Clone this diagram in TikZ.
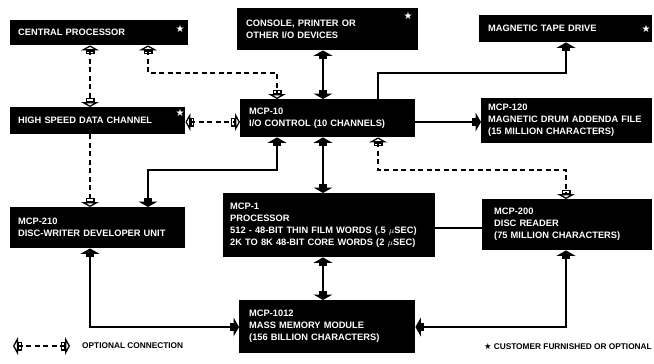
\documentclass[tikz,border=0pt]{standalone}
\usepackage{fontspec}
\setmainfont{Liberation Sans}
\newfontfamily\symf{DejaVu Sans}
\usetikzlibrary{arrows.meta}
\begin{document}
\begin{tikzpicture}[x=1pt,y=-1pt,
  box/.style={fill=black, text=white, draw=none, anchor=north west,
    inner xsep=8pt, inner ysep=0pt, align=left,
    font=\bfseries\fontsize{9.3}{12}\selectfont},
  star/.style={text=white, inner sep=0pt, font=\symf\fontsize{10}{10}\selectfont},
  sol/.style={line width=1.6pt},
  dsh/.style={line width=1.5pt, dash pattern=on 5pt off 3.5pt},
  obo/.style={arrows={{Triangle[open,length=5pt,width=18pt,line width=1.3pt]Rectangle[open,length=4pt,width=9pt,line width=1.3pt]}-{Rectangle[open,length=4pt,width=9pt,line width=1.3pt]Triangle[open,length=5pt,width=18pt,line width=1.3pt]}}},
  oen/.style={arrows={-{Rectangle[open,length=4pt,width=9pt,line width=1.3pt]Triangle[open,length=5pt,width=18pt,line width=1.3pt]}}},
  fbo/.style={arrows={{Triangle[length=5.5pt,width=19pt]Rectangle[length=3.5pt,width=8pt]}-{Rectangle[length=3.5pt,width=8pt]Triangle[length=5.5pt,width=19pt]}}},
  fen/.style={arrows={-{Rectangle[length=3.5pt,width=8pt]Triangle[length=5.5pt,width=19pt]}}},
  legend/.style={inner sep=0pt, font=\bfseries\fontsize{8.3}{9}\selectfont}]
\useasboundingbox (0,0) rectangle (654,364);
\fill[white] (0,0) rectangle (654,364);

% boxes
\node[box, text width=162pt, inner xsep=8pt, minimum height=25pt] (cp) at (10,20) {CENTRAL PROCESSOR};
\node[box, text width=163pt, inner xsep=9pt, minimum height=42pt] (con) at (237,8) {CONSOLE, PRINTER OR\\OTHER I/O DEVICES};
\node[box, text width=155pt, inner xsep=9pt, minimum height=27pt] (tape) at (479,15) {MAGNETIC TAPE DRIVE};
\node[box, text width=159pt, minimum height=27pt] (hs) at (10,107) {HIGH SPEED DATA CHANNEL};
\node[box, text width=157pt, inner xsep=9pt, minimum height=38pt] (m10) at (240,99) {MCP-10\\I/O CONTROL (10 CHANNELS)};
\node[box, text width=157pt, inner xsep=7pt, minimum height=45pt] (m120) at (481,98) {MCP-120\\MAGNETIC DRUM ADDENDA FILE\\(15 MILLION CHARACTERS)};
\node[box, text width=159pt, minimum height=41pt] (m210) at (10,207) {MCP-210\\DISC-WRITER DEVELOPER UNIT};
\node[box, text width=198pt, inner xsep=7pt, minimum height=64pt] (m1) at (223,193) {MCP-1\\PROCESSOR\\512 - 48-BIT THIN FILM WORDS (.5 $\mu$SEC)\\2K TO 8K 48-BIT CORE WORDS (2 $\mu$SEC)};
\node[box, text width=146pt, inner xsep=12pt, minimum height=51pt] (m200) at (482,199) {MCP-200\\DISC READER\\(75 MILLION CHARACTERS)};
\node[box, text width=156pt, inner xsep=10pt, minimum height=53pt] (m1012) at (239,300) {MCP-1012\\MASS MEMORY MODULE\\(156 BILLION CHARACTERS)};

% stars
\node[star] (s1) at (180,29) {★};
\node[star] (s2) at (408,16) {★};
\node[star] (s3) at (646,29) {★};
\node[star] (s4) at (180,113) {★};

% routing coordinates
\coordinate (ua) at (148,73);
\coordinate (ub) at (277,73);
\coordinate (uc) at (378,73);
\coordinate (ud) at (566,73);
\coordinate (la) at (148,170);
\coordinate (lb) at (277,170);
\coordinate (lc) at (378,170);
\coordinate (ld) at (566,170);
\coordinate (xa) at (90,0);
\coordinate (xb) at (323,0);
\coordinate (ya) at (0,122);
\coordinate (yb) at (0,228);
\coordinate (bl) at (90,327);
\coordinate (br) at (566,327);

% connectors
\draw[dsh, obo] (cp.south -| xa) -- (hs.north -| xa);
\draw[dsh, obo] (cp.south -| ua) -- (ua) -- (ub) -- (m10.north -| ub);
\draw[sol, fbo] (con.south -| xb) -- (m10.north -| xb);
\draw[sol, fen] (m10.north -| uc) -- (uc) -- (ud) -- (tape.south -| ud);
\draw[sol, fen] (m10.east |- ya) -- (m120.west |- ya);
\draw[dsh, obo] (hs.east |- ya) -- (m10.west |- ya);
\draw[dsh, oen] (hs.south -| xa) -- (m210.north -| xa);
\draw[sol, fbo] (m10.south -| lb) -- (lb) -- (la) -- (m210.north -| la);
\draw[sol, fbo] (m10.south -| xb) -- (m1.north -| xb);
\draw[dsh, obo] (m10.south -| lc) -- (lc) -- (ld) -- (m200.north -| ld);
\draw[sol] (m1.east |- yb) -- (m200.west |- yb);
\draw[sol, fbo] (m1.south -| xb) -- (m1012.north -| xb);
\draw[sol, fbo] (m210.south -| bl) -- (bl) -- (m1012.west |- bl);
\draw[sol, fbo] (m200.south -| br) -- (br) -- (m1012.east |- br);

% legend
\coordinate (lg1) at (13,346);
\coordinate (lg2) at (70,346);
\draw[dsh, obo] (lg1) -- (lg2);
\node[legend, anchor=west] (lgt) at (82,346) {OPTIONAL CONNECTION};
\node[legend, anchor=east] (lgs) at (652,347) {{\symf ★} CUSTOMER FURNISHED OR OPTIONAL};
\end{tikzpicture}
\end{document}
